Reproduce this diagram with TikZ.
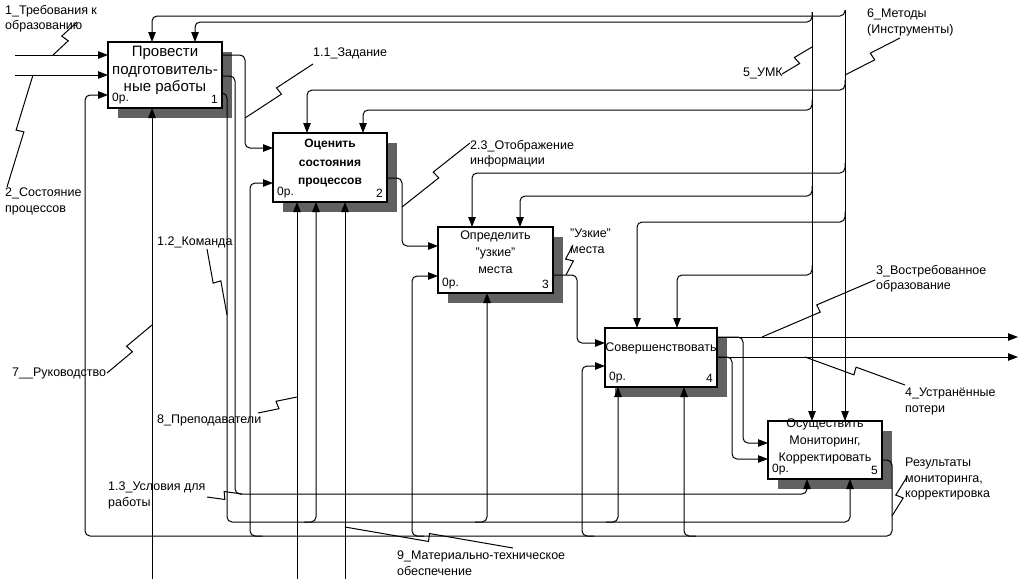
\documentclass[tikz,border=0pt]{standalone}
\usepackage{fontspec}
\setmainfont{Liberation Sans}
\usetikzlibrary{arrows.meta,shadows,calc}

\begin{document}
\begin{tikzpicture}[x=1pt,y=-1pt,
  proc/.style={draw, line width=2pt, fill=white, inner sep=0pt, outer sep=0pt,
    drop shadow={shadow xshift=10pt, shadow yshift=-10pt, fill=black!62, opacity=1}},
  corner/.style={font=\fontsize{12}{14}\selectfont, inner sep=4pt},
  zero/.style={label={[corner,anchor=south west]south west:0р.}},
  nr/.style={label={[corner,anchor=south east]south east:#1}},
  btext/.style={anchor=north, align=center, inner sep=0pt, font=\fontsize{12.5}{17}\selectfont},
  lbl/.style={anchor=north west, align=left, inner sep=0pt, font=\fontsize{12.5}{15.5}\selectfont},
  wire/.style={line width=1pt, rounded corners=5pt},
  arr/.style={wire, -{Triangle[length=10pt,width=7.5pt]}},
  back/.style={wire, {Triangle[length=10pt,width=7.5pt]}-},
  tilde/.style={line width=1pt, to path={
    -- ($(\tikztostart)!.5!(\tikztotarget)!4pt!-90:(\tikztotarget)$)
    -- ($(\tikztostart)!.5!(\tikztotarget)!4pt!90:(\tikztotarget)$)
    -- (\tikztotarget)}}
]
\fill[white] (0,0) rectangle (1028,579);
\useasboundingbox (0,0) rectangle (1028,579);

\node[proc, minimum width=114pt, minimum height=66pt, zero, nr=1] (b1) at (165,75) {};
\node[proc, minimum width=114pt, minimum height=69pt, zero, nr=2] (b2) at (330,167.5) {};
\node[proc, minimum width=115pt, minimum height=66pt, zero, nr=3] (b3) at (495.5,260) {};
\node[proc, minimum width=112pt, minimum height=59pt, zero, nr=4] (b4) at (661,357.5) {};
\node[proc, minimum width=114pt, minimum height=58pt, zero, nr=5] (b5) at (825,450) {};

\coordinate (i1) at (15,55);
\coordinate (i2) at (15,75);
\coordinate (m6) at (845,10);
\coordinate (m5) at (812,12);
\coordinate (m7) at (152,579);
\coordinate (m8) at (297,579);
\coordinate (m9) at (345,579);
\coordinate (o3) at (1018,337);
\coordinate (o4) at (1018,357);

% inputs
\draw[arr] (i1) -- ([yshift=-13pt]b1.north west);
\draw[arr] (i2) -- (b1.west);
% controls
\draw[arr] (m6) -- ([xshift=77pt]b5.north west);
\draw[arr] (m6) -- ++(0,6) -| ([xshift=44pt]b1.north west);
\draw[arr] ([yshift=-70pt]m6) -- ++(0,10) -| ([xshift=34pt]b2.north west);
\draw[arr] ([yshift=-153pt]m6) -- ++(0,10) -| ([xshift=34pt]b3.north west);
\draw[arr] ([yshift=-202pt]m6) -- ++(0,10) -| ([xshift=32pt]b4.north west);
\draw[arr] (m5) -- ([xshift=44pt]b5.north west);
\draw[arr] (m5) -- ++(0,10) -| ([xshift=87pt]b1.north west);
\draw[arr] ([yshift=-88pt]m5) -- ++(0,10) -| ([xshift=90pt]b2.north west);
\draw[arr] ([yshift=-174pt]m5) -- ++(0,10) -| ([xshift=82pt]b3.north west);
\draw[arr] ([yshift=-253pt]m5) -- ++(0,10) -| ([xshift=72pt]b4.north west);
% outputs
\draw[arr] ([yshift=-13pt]b1.north east) -- ++(23,0) |- ([yshift=-15pt]b2.north west);
\draw[arr] ([yshift=-34pt]b1.north east) -- ++(13,0) -- ++(0,418) -| ([xshift=39pt]b5.south west);
\draw[arr] ([yshift=-51pt]b1.north east) -- ++(5,0) -- ++(0,429) -| ([xshift=82pt]b5.south west);
\draw[back] ([xshift=43pt]b2.south west) -- ++(0,320) -- ++(-12,0);
\draw[back] ([xshift=49pt]b3.south west) -- ++(0,229) -- ++(-12,0);
\draw[back] ([xshift=13pt]b4.south west) -- ++(0,135) -- ++(-12,0);
\draw[arr] ([yshift=-45pt]b2.north east) -- ++(15,0) |- ([yshift=-19pt]b3.north west);
\draw[arr] ([yshift=-48pt]b3.north east) -- ++(24,0) |- ([yshift=-15pt]b4.north west);
\draw[arr] ([yshift=-9pt]b4.north east) -- (o3);
\draw[arr] ([yshift=-29pt]b4.north east) -- (o4);
\draw[arr] ([yshift=-9pt]b4.north east) -- ++(26,0) |- ([yshift=-22pt]b5.north west);
\draw[arr] ([yshift=-29pt]b4.north east) -- ++(15,0) |- ([yshift=-38pt]b5.north west);
%feedback from 5 runs along the bottom
\draw[arr] ([yshift=-39pt]b5.north east) -- ++(10,0) -- ++(0,76) -- ++(-807,0) |- ([yshift=-53pt]b1.north west);
\draw[back] ([yshift=-50pt]b2.north west) -- ++(-23,0) -- ++(0,353) -- ++(12,0);
\draw[back] ([yshift=-49pt]b3.north west) -- ++(-26,0) -- ++(0,260) -- ++(12,0);
\draw[back] ([yshift=-38pt]b4.north west) -- ++(-23,0) -- ++(0,170) -- ++(12,0);
\draw[back] ([xshift=79pt]b4.south west) -- ++(0,149) -- ++(12,0);
% mechanisms
\draw[arr] (m7) -- ([xshift=44pt]b1.south west);
\draw[arr] (m8) -- ([xshift=24pt]b2.south west);
\draw[arr] (m9) -- ([xshift=72pt]b2.south west);

\node[btext, font=\fontsize{15}{17.5}\selectfont] (t1) at ([yshift=-4pt]b1.north) {Провести\\подготовитель-\\ные работы};
\node[btext, font=\bfseries\fontsize{12}{18.5}\selectfont] (t2) at ([yshift=-6pt]b2.north) {Оценить\\состояния\\процессов};
\node[btext] (t3) at ([yshift=-4pt]b3.north) {Определить\\"узкие"\\места};
\node[btext] (t4) at ([yshift=-15pt]b4.north) {Совершенствовать};
\node[btext] (t5) at ([yshift=2pt]b5.north) {Осуществить\\Мониторинг,\\Корректировать};

\node[lbl] (l1) at (5,5) {1\_Требования к\\образованию};
\node[lbl] (l2) at (5,188) {2\_Состояние\\процессов};
\node[lbl] (l11) at (313,48) {1.1\_Задание};
\node[lbl] (l5) at (743,68) {5\_УМК};
\node[lbl] (l6) at (867,9) {6\_Методы\\(Инструменты)};
\node[lbl] (l23) at (470,140) {2.3\_Отображение\\информации};
\node[lbl] (luz) at (570,229) {"Узкие"\\места};
\node[lbl] (l3) at (876,265) {3\_Востребованное\\образование};
\node[lbl] (l4) at (905,388) {4\_Устранённые\\потери};
\node[lbl] (lr) at (905,458) {Результаты\\мониторинга,\\корректировка};
\node[lbl] (l7) at (12,368) {7\_\_Руководство};
\node[lbl] (l12) at (157,237) {1.2\_Команда};
\node[lbl] (l8) at (157,415) {8\_Преподаватели};
\node[lbl] (l13) at (108,482) {1.3\_Условия для\\работы};
\node[lbl] (l9) at (397,551) {9\_Материально-техническое\\обеспечение};

\draw[tilde]
  ([shift={(72pt,-17pt)}]l1.north west) to ([xshift=-55pt,yshift=-13pt]b1.north west)
  ([shift={(2pt,1pt)}]l2.north west) to ([xshift=-75pt]b1.west)
  ([shift={(0pt,-16pt)}]l11.north west) to ([xshift=23pt,yshift=-10pt]b1.south east)
  ([shift={(39pt,-6pt)}]l5.north west) to ([yshift=-35pt]m5)
  ([shift={(33pt,-29pt)}]l6.north west) to ([yshift=-65pt]m6)
  ([shift={(0pt,-3pt)}]l23.north west) to ([xshift=15pt,yshift=-74pt]b2.north east)
  ([shift={(3pt,-16pt)}]luz.north west) to ([xshift=13pt,yshift=-48pt]b3.north east)
  ([shift={(-1pt,-15pt)}]l3.north west) to ([xshift=45pt,yshift=-9pt]b4.north east)
  ([shift={(0pt,3pt)}]l4.north west) to ([xshift=88pt,yshift=-29pt]b4.north east)
  ([shift={(2pt,-19pt)}]lr.north west) to ([xshift=10pt,yshift=-37pt]b5.south east)
  ([shift={(95pt,-5pt)}]l7.north west) to ([yshift=254pt]m7)
  ([shift={(50pt,-12pt)}]l12.north west) to ([xshift=5pt,yshift=-207pt]b1.south east)
  ([shift={(101pt,2pt)}]l8.north west) to ([yshift=182pt]m8)
  ([shift={(99pt,-15pt)}]l13.north west) to ([xshift=20pt,yshift=-386pt]b1.south east)
  ([shift={(116pt,3pt)}]l9.north west) to ([yshift=52pt]m9);
\end{tikzpicture}
\end{document}
